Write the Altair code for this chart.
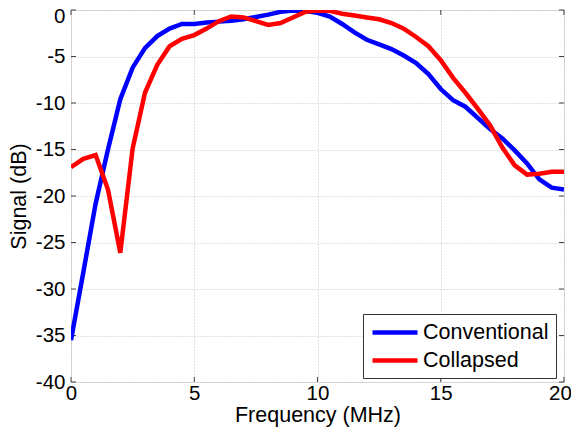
import altair as alt
import pandas as pd

freq = [0, 0.5, 1, 1.5, 2, 2.5, 3, 3.5, 4, 4.5, 5, 5.5, 6, 6.5, 7, 7.5, 8, 8.5, 9, 9.5,
        10, 10.5, 11, 11.5, 12, 12.5, 13, 13.5, 14, 14.5, 15, 15.5, 16, 16.5, 17, 17.5,
        18, 18.5, 19, 19.5, 20]
conventional = [-35.5, -28.2, -20.8, -15.0, -9.6, -6.2, -4.1, -2.8, -2.0, -1.5, -1.5,
                -1.35, -1.25, -1.15, -1.0, -0.75, -0.5, -0.2, -0.05, -0.1, -0.3, -0.7,
                -1.5, -2.4, -3.2, -3.7, -4.2, -4.9, -5.7, -6.9, -8.5, -9.7, -10.4, -11.6,
                -12.8, -13.8, -15.1, -16.5, -18.2, -19.1, -19.3]
collapsed = [-16.9, -16.0, -15.6, -19.3, -26.1, -14.9, -8.9, -5.9, -3.9, -3.1, -2.7,
             -2.0, -1.2, -0.7, -0.8, -1.2, -1.6, -1.4, -0.8, -0.2, -0.05, -0.1, -0.4,
             -0.6, -0.8, -1.0, -1.4, -2.0, -2.9, -3.9, -5.4, -7.3, -8.9, -10.6, -12.4,
             -14.8, -16.7, -17.7, -17.6, -17.4, -17.4]
series_names = ["Conventional", "Collapsed"]
series_colors = ["#0000ff", "#ff0000"]
x_ticks = [0, 5, 10, 15, 20]
y_ticks = [-40, -35, -30, -25, -20, -15, -10, -5, 0]

W, H = 493, 372
FONT = "Liberation Sans"

df = pd.concat([
    pd.DataFrame({"Frequency": freq, "Signal": conventional, "Series": series_names[0]}),
    pd.DataFrame({"Frequency": freq, "Signal": collapsed, "Series": series_names[1]}),
])

xscale = alt.Scale(domain=[0, 20], nice=False)
yscale = alt.Scale(domain=[-40, 0], nice=False)

common_axis = dict(grid=True, gridDash=[1, 2], gridColor="#c0c0c0", ticks=False,
                   domain=False, labelFontSize=20.5, titleFontSize=21.5,
                   labelFont=FONT, titleFont=FONT, labelColor="#000", titleColor="#000",
                   titleFontWeight="normal", labelExpr="'' + datum.value")

lines = alt.Chart(df).mark_line(strokeWidth=4.5, clip=True).encode(
    x=alt.X("Frequency:Q", scale=xscale,
            axis=alt.Axis(title="Frequency (MHz)", values=x_ticks, labelPadding=1,
                          titlePadding=1, labelFlush=False,
                          labelOffset={"condition": {"test": "datum.value == 20", "value": -4},
                                       "value": 0},
                          **common_axis)),
    y=alt.Y("Signal:Q", scale=yscale,
            axis=alt.Axis(title="Signal (dB)", values=y_ticks, labelPadding=6,
                          titlePadding=5,
                          labelOffset={"condition": {"test": "datum.value == 0", "value": 6},
                                       "value": 0},
                          **common_axis)),
    color=alt.Color("Series:N", sort=series_names,
                    scale=alt.Scale(domain=series_names, range=series_colors),
                    legend=alt.Legend(title=None, orient="none", legendX=292, legendY=304,
                                      symbolType="M-1,0H4", symbolStrokeWidth=4.5,
                                      symbolSize=324, symbolFillColor="transparent",
                                      labelFontSize=21.5, labelFont=FONT,
                                      labelColor="#000", labelOffset=30, padding=7,
                                      rowPadding=6, strokeColor="#333", fillColor="#ffffff",
                                      cornerRadius=0, labelLimit=300)),
)

xt = pd.DataFrame({"v": x_ticks})
yt = pd.DataFrame({"v": y_ticks})
tick_color = "#444"
xb = alt.Chart(xt).mark_rule(color=tick_color, strokeWidth=1).encode(
    x=alt.X("v:Q", scale=xscale), y=alt.value(H), y2=alt.value(H - 5))
xtop = alt.Chart(xt).mark_rule(color=tick_color, strokeWidth=1).encode(
    x=alt.X("v:Q", scale=xscale), y=alt.value(0), y2=alt.value(5))
yl = alt.Chart(yt).mark_rule(color=tick_color, strokeWidth=1).encode(
    y=alt.Y("v:Q", scale=yscale), x=alt.value(0), x2=alt.value(5))
yr = alt.Chart(yt).mark_rule(color=tick_color, strokeWidth=1).encode(
    y=alt.Y("v:Q", scale=yscale), x=alt.value(W), x2=alt.value(W - 5))

chart = alt.layer(xb, xtop, yl, yr, lines).properties(
    width=W, height=H,
    autosize=alt.AutoSizeParams(type="none"),
    padding={"left": 63, "top": 2, "right": 7, "bottom": 46},
).configure_view(stroke="#444", strokeWidth=1).configure(background="white")

chart.save("out.html", embed_options={"renderer": "svg", "actions": False})
